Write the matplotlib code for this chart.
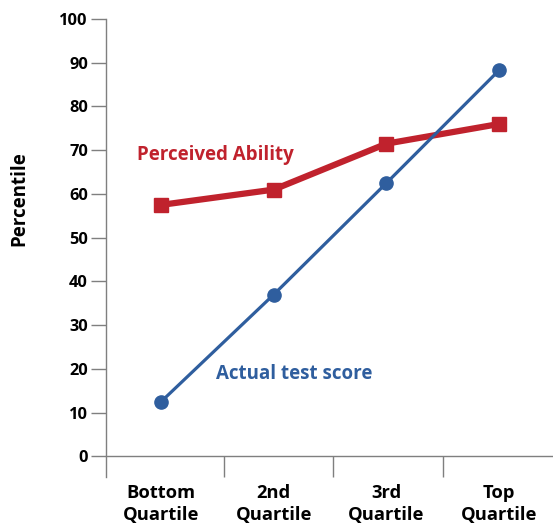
import matplotlib
matplotlib.use("Agg")
from matplotlib import pyplot as plt

# data
categories = ["Bottom\nQuartile", "2nd\nQuartile", "3rd\nQuartile", "Top\nQuartile"]
perceived = [57.5, 61.0, 71.5, 76.0]
actual = [12.5, 37.0, 62.5, 88.3]
yticks = [0, 10, 20, 30, 40, 50, 60, 70, 80, 90, 100]
boundaries = [0.56, 1.53, 2.5]

red = "#C0222D"
blue = "#2F5E9E"

plt.rcParams['font.family'] = ['Open Sans', 'DejaVu Sans']

fig = plt.figure(figsize=(5.53, 5.24), dpi=100)
ax = fig.add_axes([106 / 553, 1 - 477 / 524, 1 - 106 / 553, (477 - 19) / 524])

x = list(range(len(categories)))
ax.plot(x, perceived, color=red, linewidth=4.5, marker="s", markersize=10, zorder=3)
ax.plot(x, actual, color=blue, linewidth=2.3, marker="o", markersize=9.5, zorder=4)

ax.set_xlim(-0.488, 3.478)
ax.set_ylim(-4.7, 100)

for s in ["top", "right"]:
    ax.spines[s].set_visible(False)
ax.spines["bottom"].set_position(("data", 0))
for s in ["left", "bottom"]:
    ax.spines[s].set_color("#7f7f7f")
    ax.spines[s].set_linewidth(1.0)

ax.set_yticks(yticks)
ax.set_yticklabels([str(v) for v in yticks], fontsize=11.8, fontweight="bold")
ax.tick_params(axis="y", direction="out", length=11, width=1, color="#7f7f7f", pad=2)

ax.set_xticks(x)
ax.set_xticklabels(categories, fontsize=13.2, fontweight="bold", linespacing=1.25)
ax.tick_params(axis="x", length=0, pad=20)
ax.set_xticks(boundaries, minor=True)
ax.tick_params(axis="x", which="minor", direction="out", length=15, width=1, color="#7f7f7f")

ax.set_ylabel("Percentile", fontsize=13.5, fontweight="bold")
ax.yaxis.set_label_coords(-0.172, 0.607)

ax.text(-0.21, 68.8, "Perceived Ability", color=red, fontsize=13.5, fontweight="bold", va="center")
ax.text(0.49, 18.8, "Actual test score", color=blue, fontsize=13.5, fontweight="bold", va="center")

fig.savefig("out.png", dpi=100)
